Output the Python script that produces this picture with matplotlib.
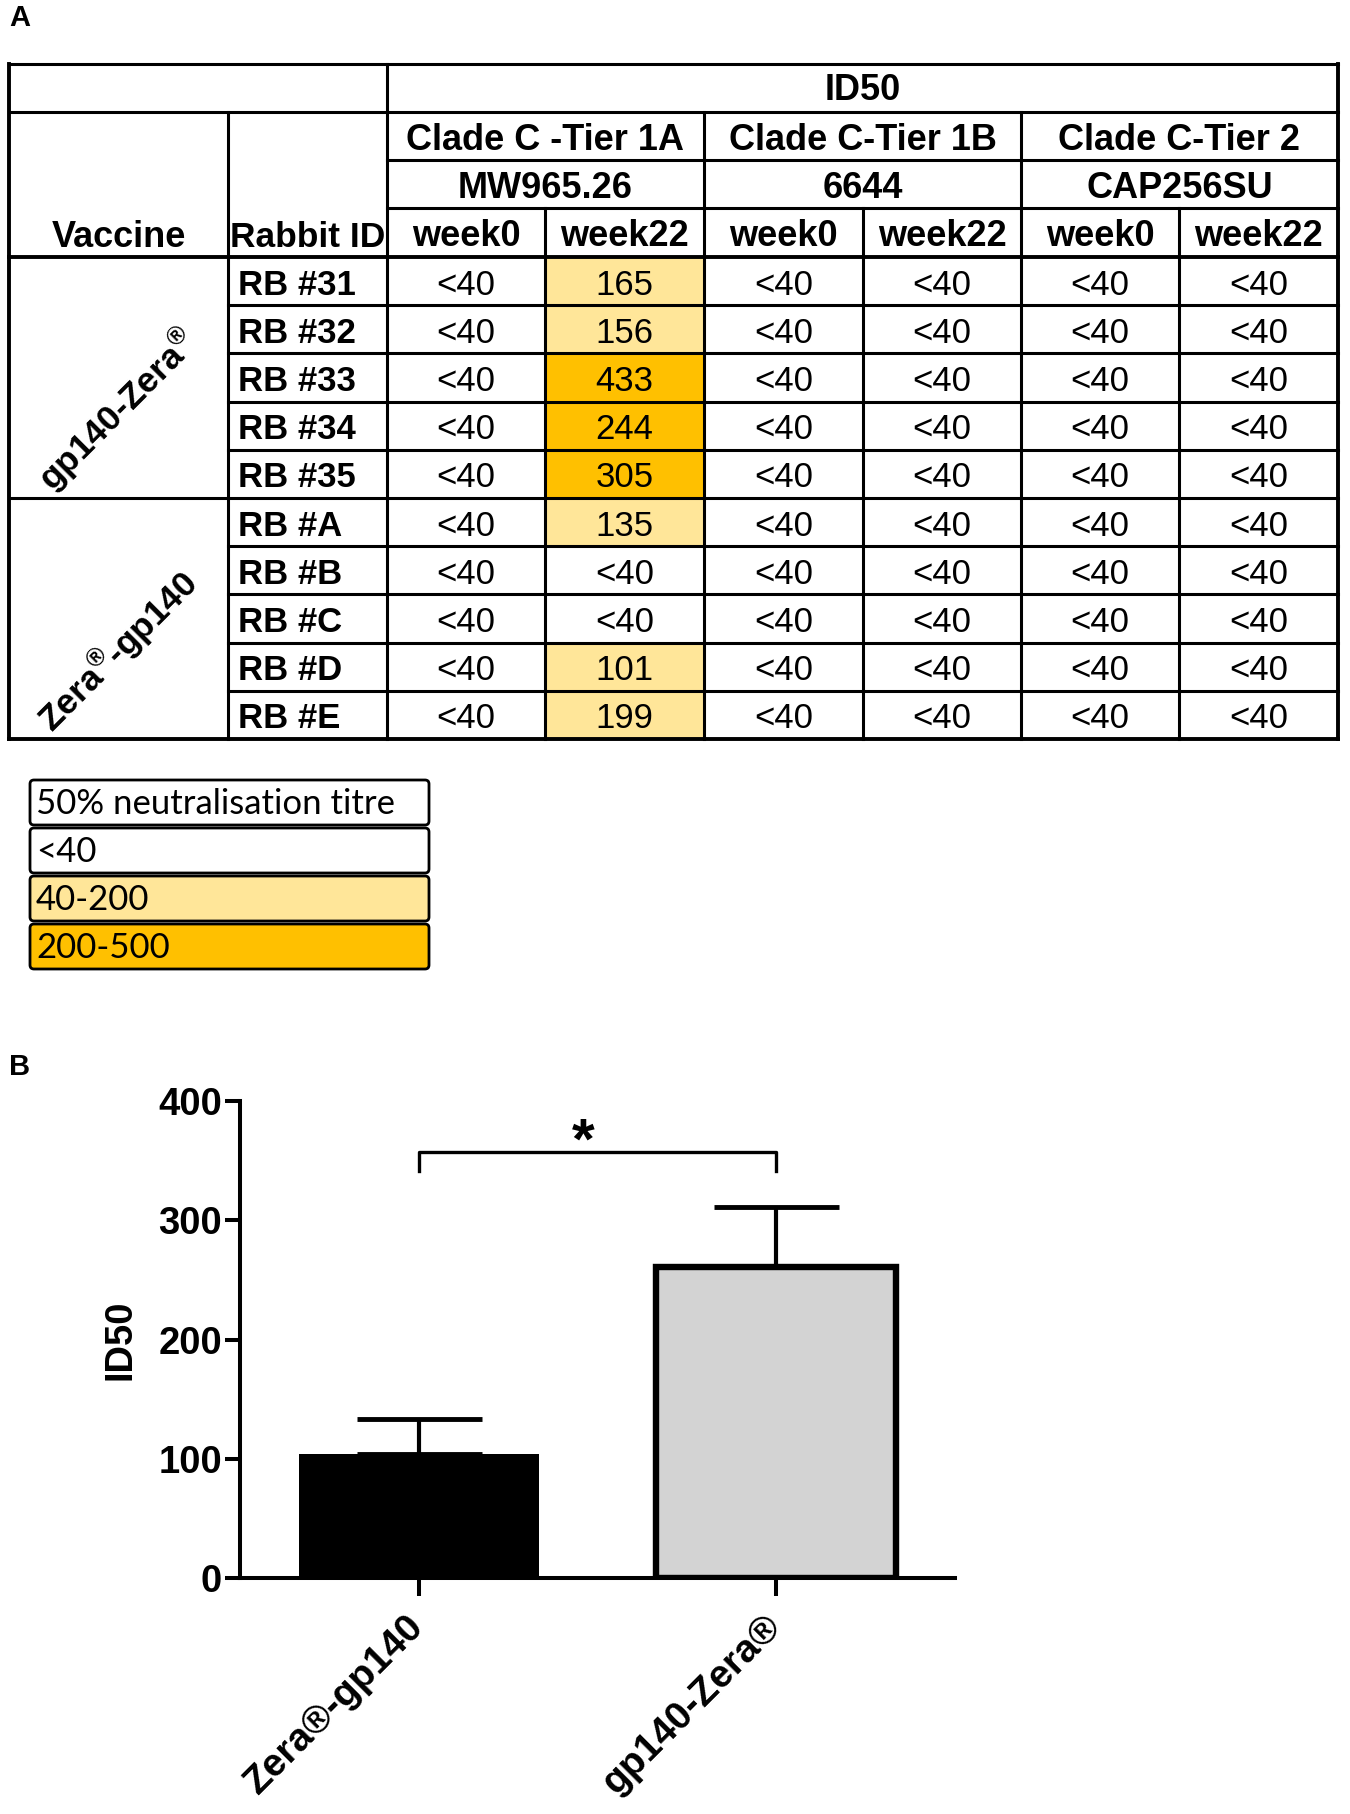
import matplotlib.pyplot as plt
from matplotlib.patches import Rectangle, FancyBboxPatch
from matplotlib.transforms import ScaledTranslation

plt.rcParams.update({
    'font.family': ['Liberation Sans', 'DejaVu Sans'],
    'mathtext.fontset': 'custom',
    'mathtext.rm': 'Liberation Sans',
    'mathtext.bf': 'Liberation Sans:bold',
    'mathtext.it': 'Liberation Sans:italic',
    'figure.facecolor': 'white',
})

# ---- panel A: neutralisation table ----
VACCINES = [r'gp140-Zera$^{\mathbf{®}}$', r'Zera$^{\mathbf{®}}$-gp140']
RABBITS = ['RB #31', 'RB #32', 'RB #33', 'RB #34', 'RB #35',
           'RB #A', 'RB #B', 'RB #C', 'RB #D', 'RB #E']
CLADES = ['Clade C -Tier 1A', 'Clade C-Tier 1B', 'Clade C-Tier 2']
VIRUSES = ['MW965.26', '6644', 'CAP256SU']
WEEKS = ['week0', 'week22']

MW_WK0 = ['<40', '<40', '<40', '<40', '<40', '<40', '<40', '<40', '<40', '<40']
MW_WK22 = ['165', '156', '433', '244', '305', '135', '<40', '<40', '101', '199']
C6644_WK0 = ['<40', '<40', '<40', '<40', '<40', '<40', '<40', '<40', '<40', '<40']
C6644_WK22 = ['<40', '<40', '<40', '<40', '<40', '<40', '<40', '<40', '<40', '<40']
CAP_WK0 = ['<40', '<40', '<40', '<40', '<40', '<40', '<40', '<40', '<40', '<40']
CAP_WK22 = ['<40', '<40', '<40', '<40', '<40', '<40', '<40', '<40', '<40', '<40']

LEGEND_TITLE = '50% neutralisation titre'
LEGEND_BINS = ['<40', '40-200', '200-500']

# ---- panel B: bar chart ----
GROUPS = ['Zera®-gp140', 'gp140-Zera®']
MEANS = [104, 261]
SEMS = [29, 50]
SIG = '*'

COL_LIGHT = '#FFE699'
COL_DARK = '#FFC000'
BIN_COLORS = ['white', COL_LIGHT, COL_DARK]


def titre_color(v):
    if v.startswith('<'):
        return 'white'
    return COL_LIGHT if int(v) < 200 else COL_DARK


fig = plt.figure(figsize=(13.5, 18.14), dpi=100)
ax_t = fig.add_axes([0, 0, 1, 1])
ax_t.set_xlim(0, 1350)
ax_t.set_ylim(1814, 0)
ax_t.axis('off')

COL_X = [9, 228, 387, 545, 704, 863, 1021, 1179, 1338]
HEAD_Y = [64, 112, 160, 208, 257]
ROW_H = 48.2
row_y = [HEAD_Y[-1] + i * ROW_H for i in range(len(RABBITS) + 1)]
LW = 2.2


def hline(x0, x1, y, lw=LW):
    ax_t.plot([x0, x1], [y, y], color='black', lw=lw, solid_capstyle='projecting')


def vline(x, y0, y1, lw=LW):
    ax_t.plot([x, x], [y0, y1], color='black', lw=lw, solid_capstyle='projecting')


columns = [MW_WK0, MW_WK22, C6644_WK0, C6644_WK22, CAP_WK0, CAP_WK22]

# cell fills
for c, vals in enumerate(columns):
    x0, x1 = COL_X[c + 2], COL_X[c + 3]
    for r, v in enumerate(vals):
        ax_t.add_patch(Rectangle((x0, row_y[r]), x1 - x0, ROW_H,
                                 facecolor=titre_color(v), edgecolor='none', zorder=1))

# grid lines
hline(COL_X[0], COL_X[-1], HEAD_Y[0])
hline(COL_X[0], COL_X[-1], HEAD_Y[1])
hline(COL_X[2], COL_X[-1], HEAD_Y[2])
hline(COL_X[2], COL_X[-1], HEAD_Y[3])
hline(COL_X[0], COL_X[-1], HEAD_Y[4], lw=2.8)
for r in range(1, len(RABBITS)):
    x_start = COL_X[0] if r == 5 else COL_X[1]
    hline(x_start, COL_X[-1], row_y[r])
hline(COL_X[0], COL_X[-1], row_y[-1], lw=2.8)

vline(COL_X[0], HEAD_Y[0], row_y[-1], lw=2.8)
vline(COL_X[-1], HEAD_Y[0], row_y[-1], lw=2.8)
vline(COL_X[1], HEAD_Y[1], row_y[-1])
vline(COL_X[2], HEAD_Y[0], row_y[-1])
for k in (4, 6):
    vline(COL_X[k], HEAD_Y[1], row_y[-1])
for k in (3, 5, 7):
    vline(COL_X[k], HEAD_Y[3], row_y[-1])

# header text
HFS = 26
ax_t.text((COL_X[2] + COL_X[-1]) / 2, (HEAD_Y[0] + HEAD_Y[1]) / 2 + 2, 'ID50',
          ha='center', va='center', fontsize=HFS, fontweight='bold')
for i, (clade, virus) in enumerate(zip(CLADES, VIRUSES)):
    xc = (COL_X[2 + 2 * i] + COL_X[4 + 2 * i]) / 2
    ax_t.text(xc, (HEAD_Y[1] + HEAD_Y[2]) / 2 + 4, clade,
              ha='center', va='center', fontsize=HFS, fontweight='bold')
    ax_t.text(xc, (HEAD_Y[2] + HEAD_Y[3]) / 2 + 4, virus,
              ha='center', va='center', fontsize=HFS, fontweight='bold')
    for j, wk in enumerate(WEEKS):
        xw = (COL_X[2 + 2 * i + j] + COL_X[3 + 2 * i + j]) / 2
        ax_t.text(xw, (HEAD_Y[3] + HEAD_Y[4]) / 2 + 4, wk,
                  ha='center', va='center', fontsize=HFS, fontweight='bold')
wk_mid = (HEAD_Y[3] + HEAD_Y[4]) / 2 + 5
ax_t.text((COL_X[0] + COL_X[1]) / 2, wk_mid, 'Vaccine', ha='center', va='center',
          fontsize=HFS, fontweight='bold')
ax_t.text(COL_X[1] + 2, wk_mid, 'Rabbit ID', ha='left', va='center',
          fontsize=HFS - 0.5, fontweight='bold')

# rotated vaccine labels
for g, lab in enumerate(VACCINES):
    yc = (row_y[5 * g] + row_y[5 * g + 5]) / 2 + 33
    ax_t.text((COL_X[0] + COL_X[1]) / 2 - 1, yc, lab, rotation=45,
              ha='center', va='center', fontsize=25.5, fontweight='bold',
              rotation_mode='anchor')

# rabbit ids and titres
for r, rid in enumerate(RABBITS):
    yc = row_y[r] + ROW_H / 2 + 4
    ax_t.text(COL_X[1] + 10, yc, rid, ha='left', va='center',
              fontsize=25, fontweight='bold')
    for c, vals in enumerate(columns):
        xc = (COL_X[c + 2] + COL_X[c + 3]) / 2
        ax_t.text(xc, yc, vals[r], ha='center', va='center', fontsize=25)

# colour key
LEG_X0, LEG_X1 = 30, 429
LEG_Y = [780, 828, 876, 924]
LEG_H = 45
for i, lab in enumerate([LEGEND_TITLE] + LEGEND_BINS):
    face = 'white' if i == 0 else BIN_COLORS[i - 1]
    ax_t.add_patch(FancyBboxPatch((LEG_X0, LEG_Y[i]), LEG_X1 - LEG_X0, LEG_H,
                                  boxstyle='round,pad=0,rounding_size=4',
                                  facecolor=face, edgecolor='black', lw=2))
    ax_t.text(LEG_X0 + 6, LEG_Y[i] + LEG_H / 2 + 2, lab, ha='left', va='center',
              fontsize=25, family=['Lato', 'DejaVu Sans'])

# panel letters
ax_t.text(9, 4, 'A', ha='left', va='top', fontsize=21, fontweight='bold')
ax_t.text(9, 1053, 'B', ha='left', va='top', fontsize=21, fontweight='bold')

# ---- panel B ----
ax = fig.add_axes([240 / 1350, 1 - 1578 / 1814, 715 / 1350, 477 / 1814])
xpos = [0, 1]
ax.bar(xpos, MEANS, width=0.67, color=['black', '#D3D3D3'],
       edgecolor='black', linewidth=[0, 4.6], zorder=2)
ax.errorbar(xpos, MEANS, yerr=[[0, 0], SEMS], fmt='none', ecolor='black',
            elinewidth=3, capsize=45, capthick=3.5, zorder=3)

ax.plot([0, 0, 1, 1], [341, 357, 357, 341], color='black', lw=2.4,
        clip_on=False)
ax.text(0.46, 352, SIG, ha='center', va='baseline', fontsize=42,
        fontweight='bold')

ax.set_xlim(-0.5, 1.5)
ax.set_ylim(0, 400)
ax.set_yticks([0, 100, 200, 300, 400])
ax.set_xticks(xpos)
ax.set_xticklabels(GROUPS, rotation=45, ha='right', va='center',
                   rotation_mode='anchor', fontweight='bold')
shift = ScaledTranslation(8 / 100, 0, fig.dpi_scale_trans)
for lbl in ax.get_xticklabels():
    lbl.set_transform(lbl.get_transform() + shift)
for lbl in ax.get_yticklabels():
    lbl.set_fontweight('bold')
ax.spines['top'].set_visible(False)
ax.spines['right'].set_visible(False)
ax.spines['left'].set_linewidth(2.9)
ax.spines['bottom'].set_linewidth(2.9)
ax.tick_params(axis='y', length=11, width=2.9, labelsize=27.5, pad=2)
ax.tick_params(axis='x', length=13, width=2.9, labelsize=28, pad=18)
ax.set_ylabel('ID50', fontsize=27.5, fontweight='bold', labelpad=14)

fig.savefig('out.png', dpi=100, facecolor='white')
